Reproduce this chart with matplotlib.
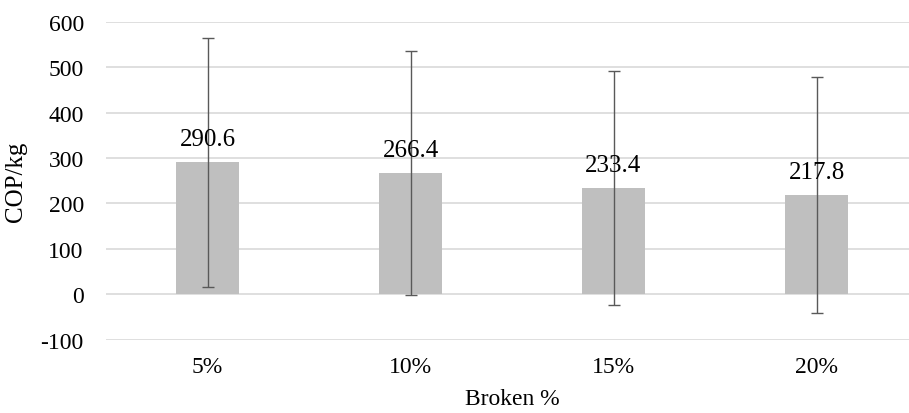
import numpy as np
import matplotlib.pyplot as plt

plt.rcParams['font.family'] = ['Liberation Serif', 'DejaVu Serif']
plt.rcParams['axes.unicode_minus'] = False

categories = ['5%', '10%', '15%', '20%']
cop = [290.6, 266.4, 233.4, 217.8]
err = [274, 269, 257, 260]

fig = plt.figure(figsize=(9.09, 4.14), dpi=100)
ax = fig.add_axes([106/909, (414-340.7)/414, 812/909, (340.7-22.7)/414])

x = np.arange(len(categories))
ax.bar(x, cop, width=0.31, color='#bfbfbf', zorder=2)
ax.errorbar(x, cop, yerr=err, fmt='none', ecolor='#595959', elinewidth=1.0,
            capsize=4, capthick=1.0, zorder=3)
for xi, v in zip(x, cop):
    ax.annotate(f'{v:.1f}', (xi, v), xytext=(0, 9), textcoords='offset points',
                ha='center', va='bottom', fontsize=18, color='#000000', zorder=4)

ax.set_xlim(-0.5, 3.5)
ax.set_ylim(-100, 600)
ax.set_yticks(range(-100, 601, 100))
ax.set_xticks(x)
ax.set_xticklabels(categories)
ax.yaxis.grid(True, color='#d9d9d9', linewidth=1.2, zorder=0)
ax.set_axisbelow(True)
for s in ax.spines.values():
    s.set_visible(False)
ax.tick_params(axis='both', length=0, labelsize=17, colors='#000000')
ax.tick_params(axis='y', pad=16)
ax.tick_params(axis='x', pad=12)
ax.set_xlabel('Broken %', fontsize=17, labelpad=8)
ax.set_ylabel('COP/kg', fontsize=18, labelpad=10)

fig.savefig('out.png', dpi=100)
